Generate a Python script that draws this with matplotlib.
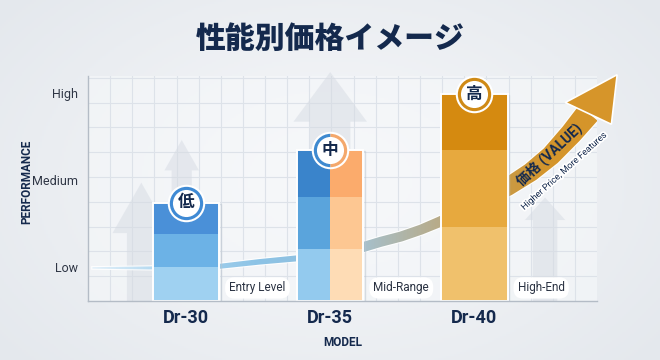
import numpy as np
import matplotlib.pyplot as plt
from matplotlib.colors import LinearSegmentedColormap
from matplotlib.patches import Polygon, FancyArrow
import matplotlib.patheffects as pe

plt.rcParams['font.family'] = ['Roboto', 'Noto Sans CJK JP', 'DejaVu Sans']

navy = '#14294d'

models = ['Dr-30', 'Dr-35', 'Dr-40']
tiers = ['低', '中', '高']
tier_notes = ['Entry Level', 'Mid-Range', 'High-End']
perf_levels = [1, 2, 3]
perf_labels = ['Low', 'Medium', 'High']

# stacked bar boundaries on the performance scale
seg_low = [1.00, 1.21, 1.46]
seg_mid = [1.38, 1.80, 2.34]
seg_top = [1.74, 2.34, 2.99]

# colours bottom -> top
blue_30 = ['#9fd1f1', '#6cb2e6', '#4a90d8']
blue_35 = ['#93caee', '#5aa4dc', '#3a84cb']
orange_35 = ['#fedcb5', '#fdc792', '#fbab6c']
gold_40 = ['#f0c16c', '#e7a93e', '#d58a10']
ring_colors = ['#3f8ad4', ('#3f8ad0', '#f4a86c'), '#cf8a16']

# price trend (width in pixels)
trend_x = [-0.65, -0.25, 0.24, 0.51, 0.77, 1.00, 1.23, 1.35, 1.49, 1.63, 1.76, 1.88, 2.00,
           2.23, 2.39, 2.53, 2.67, 2.79]
trend_y = [0.99, 0.99, 1.01, 1.06, 1.10, 1.15, 1.23, 1.29, 1.35, 1.43, 1.52, 1.61, 1.69,
           1.92, 2.09, 2.28, 2.53, 2.77]
trend_w = [1.5, 3.0, 5.0, 5.5, 6.0, 7.5, 10.0, 10.0, 10.0, 10.0, 10.5, 11.5, 13.0,
           18.0, 19.0, 20.0, 22.0, 24.0]
trend_colors = [(-0.68, '#e6f2fa'), (-0.25, '#b7dbf1'), (0.5, '#8cc3e6'), (1.0, '#93bfdc'),
                (1.23, '#a6c0cc'), (1.76, '#b8ab88'), (2.23, '#c99a45'), (2.5, '#d4952c'),
                (2.85, '#d6952a')]
head_x = [2.63, 2.99, 2.95]
head_y = [2.89, 3.21, 2.64]

# faint up-arrows in the background: x, top, shaft, head width, head length
deco_x = [-0.31, -0.03, 1.00, 2.49]
deco_top = [1.97, 2.46, 3.24, 1.80]
deco_shaft = [0.20, 0.14, 0.28, 0.17]
deco_head = [0.40, 0.24, 0.51, 0.28]
deco_hlen = [0.58, 0.35, 0.57, 0.26]

y_lo, y_hi = 0.61, 3.195
x_lo, x_hi = -0.68, 2.85

fig = plt.figure(figsize=(6.6, 3.6), dpi=100)

# soft background
bg = fig.add_axes([0, 0, 1, 1], zorder=-10)
yy, xx = np.mgrid[0:1:180j, 0:1:330j]
r = np.sqrt(((xx - 0.5) / 0.75) ** 2 + ((yy - 0.5) / 0.9) ** 2)
bg.imshow(r, cmap=LinearSegmentedColormap.from_list('bg', ['#f7f8fa', '#e4e8ed']),
          extent=[0, 1, 0, 1], aspect='auto')
bg.axis('off')

ax = fig.add_axes([0.1333, 0.1639, 0.7712, 0.625])
ax.set_facecolor((0.97, 0.975, 0.985, 0.55))
ax.set_xlim(x_lo, x_hi)
ax.set_ylim(y_lo, y_hi)

# grid
for gx in np.arange(x_lo, x_hi, 0.1535)[1:]:
    ax.axvline(gx, color='#dde2e9', lw=0.8, zorder=0.5)
for gy in np.arange(y_lo, y_hi, 0.285)[1:]:
    ax.axhline(gy, color='#dde2e9', lw=0.8, zorder=0.5)

for dx, top, sw, hw, hl in zip(deco_x, deco_top, deco_shaft, deco_head, deco_hlen):
    ax.add_patch(FancyArrow(dx, y_lo, 0, top - y_lo, width=sw, head_width=hw,
                            head_length=hl, length_includes_head=True,
                            color='#d6dbe3', alpha=0.5, lw=0, zorder=0.7, clip_on=False))

# trend ribbon, built in pixel space so its width stays even
pts = np.column_stack([trend_x, trend_y])
disp = ax.transData.transform(pts)
tang = np.gradient(disp, axis=0)
tang /= np.linalg.norm(tang, axis=1)[:, None]
nrm = np.column_stack([-tang[:, 1], tang[:, 0]])
half = np.array(trend_w)[:, None] / 2
outline = np.vstack([disp + nrm * half, (disp - nrm * half)[::-1]])
ribbon = Polygon(ax.transData.inverted().transform(outline), closed=True,
                 fc='none', ec='white', lw=1.6, alpha=0.9, zorder=1.45)
ax.add_patch(ribbon)
stops = np.clip([(x - x_lo) / (x_hi - x_lo) for x, _ in trend_colors], 0, 1)
stops[0], stops[-1] = 0.0, 1.0
tcmap = LinearSegmentedColormap.from_list('trend', list(zip(stops, [c for _, c in trend_colors])))
grad = ax.imshow(np.linspace(0, 1, 400)[None, :], extent=[x_lo, x_hi, y_lo, y_hi],
                 aspect='auto', cmap=tcmap, zorder=1.5, interpolation='bilinear')
grad.set_clip_path(ribbon)
ax.add_patch(Polygon(np.column_stack([head_x, head_y]), closed=True, fc='#d6952a',
                     ec='white', lw=1.2, zorder=1.6, clip_on=False))
ax.set_xlim(x_lo, x_hi)
ax.set_ylim(y_lo, y_hi)

ax.text(2.52, 2.29, '価格 (VALUE)', rotation=43, ha='center', va='center',
        fontsize=10, fontweight='bold', color=navy, zorder=4)
ax.text(2.62, 2.10, 'Higher Price, More Features', rotation=42, ha='center', va='center',
        fontsize=6.5, color=navy, zorder=4,
        path_effects=[pe.withStroke(linewidth=2.5, foreground='white')])

# bars
w = 0.46
xs = np.arange(len(models))
for i in range(len(models)):
    bounds = [y_lo, seg_low[i], seg_mid[i], seg_top[i]]
    if i == 1:
        parts = [(xs[i] - w / 4, w / 2, blue_35), (xs[i] + w / 4, w / 2, orange_35)]
    else:
        parts = [(xs[i], w, blue_30 if i == 0 else gold_40)]
    for px, pw, cols in parts:
        for k in range(3):
            ax.bar(px, bounds[k + 1] - bounds[k], pw, bottom=bounds[k], color=cols[k],
                   lw=0, zorder=2)
    ax.bar(xs[i] + 0.01, seg_top[i] - y_lo, w, bottom=y_lo - 0.01, fc='none',
           ec='#b8c2cc', lw=1.0, alpha=0.5, zorder=1.9)
    ax.bar(xs[i], seg_top[i] - y_lo, w, bottom=y_lo, fc='none', ec='white', lw=1.4, zorder=2.1)

    # badge
    ax.plot(xs[i], seg_top[i], 'o', ms=27, mfc='white', mec='none', zorder=3)
    rc = ring_colors[i]
    if isinstance(rc, tuple):
        ax.plot(xs[i], seg_top[i], 'o', ms=24, fillstyle='left', mfc=rc[0],
                mfcalt=rc[1], mec='none', zorder=3.1)
    else:
        ax.plot(xs[i], seg_top[i], 'o', ms=24, mfc=rc, mec='none', zorder=3.1)
    ax.plot(xs[i], seg_top[i], 'o', ms=19.5, mfc='white', mec='none', zorder=3.2)
    ax.text(xs[i], seg_top[i], tiers[i], ha='center', va='center', fontsize=12,
            fontweight='bold', color=navy, zorder=3.3)

    ax.text(xs[i] + w / 2 + 0.07, 0.76, tier_notes[i], ha='left', va='center',
            fontsize=8.5, color='#2a3242', zorder=3,
            bbox=dict(boxstyle='round,pad=0.35,rounding_size=0.8', fc='white', ec='none'))

for s in ['top', 'right']:
    ax.spines[s].set_visible(False)
for s in ['left', 'bottom']:
    ax.spines[s].set_color('#b4bcc6')
    ax.spines[s].set_linewidth(1.0)

ax.set_xticks(xs, models)
ax.set_yticks(perf_levels, perf_labels)
ax.tick_params(axis='x', length=0, pad=6, labelsize=13, labelcolor=navy)
ax.tick_params(axis='y', length=0, pad=7, labelsize=9, labelcolor='#2f3645')
for t in ax.get_xticklabels():
    t.set_fontweight('bold')
ax.set_xlabel('MODEL', fontsize=8.5, fontweight='bold', color=navy, labelpad=6)
fig.text(27 / 660, 1 - 182 / 360, 'PERFORMANCE', rotation=90, ha='center', va='center',
         fontsize=8.5, fontweight='bold', color=navy)

fig.text(0.5, 0.89, '性能別価格イメージ', ha='center', va='center', fontsize=21.5,
         fontweight='black', color=navy)

fig.savefig('out.png', dpi=100)
